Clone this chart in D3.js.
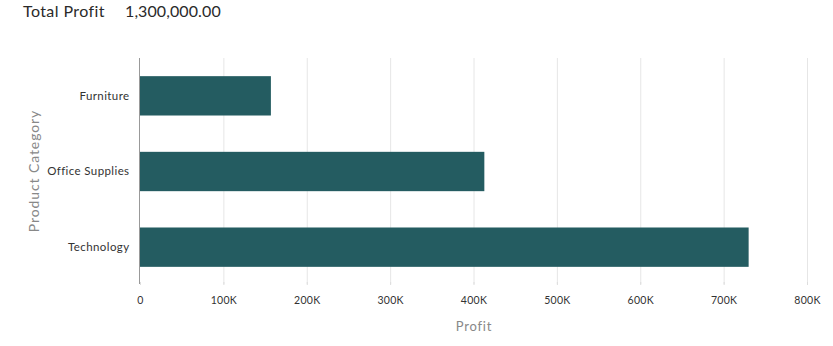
<!DOCTYPE html>
<html>
<head>
<meta charset="utf-8">
<script src="https://cdn.jsdelivr.net/npm/d3@7"></script>
<style>
  html, body { margin: 0; padding: 0; background: #fff; }
  svg { display: block; }
  text { font-family: Lato, "Open Sans", sans-serif; }
</style>
</head>
<body>
<svg id="chart" width="833" height="346"></svg>
<script>
// Profit by product category
const categories = ["Furniture", "Office Supplies", "Technology"];
const profit = [157000, 413000, 730000];
const xTicks = [0, 100000, 200000, 300000, 400000, 500000, 600000, 700000, 800000];
const totalLabel = "Total Profit";
const xTitle = "Profit";
const yTitle = "Product Category";

const svg = d3.select("#chart");
const plotLeft = 140, plotRight = 807, plotTop = 58, plotBottom = 284;

const x = d3.scaleLinear().domain([0, 800000]).range([plotLeft, plotRight]);
const y = d3.scaleBand().domain(categories).range([plotTop, plotBottom + 1])
  .paddingInner(0.48).paddingOuter(0.24);

// header
const total = d3.sum(profit);
const head = svg.append("text").attr("x", 23).attr("y", 17)
  .attr("font-size", 16).attr("fill", "#2a2a2a");
head.append("tspan").attr("letter-spacing", 0.4).text(totalLabel);
head.append("tspan").attr("x", 125).attr("letter-spacing", 0.1).text(d3.format(",.2f")(total));

// vertical gridlines
svg.append("g").selectAll("line").data(xTicks.slice(1)).join("line")
  .attr("x1", d => x(d) + 0.5).attr("x2", d => x(d) + 0.5)
  .attr("y1", plotTop).attr("y2", plotBottom)
  .attr("stroke", "#e6e6e6").attr("stroke-width", 1);

// bars
svg.append("g").selectAll("rect").data(categories).join("rect")
  .attr("x", x(0))
  .attr("y", d => y(d))
  .attr("width", (d, i) => x(profit[i]) - x(0))
  .attr("height", y.bandwidth())
  .attr("fill", "#245c61");

// x axis
const xAxis = d3.axisBottom(x).tickValues(xTicks)
  .tickFormat(d => d === 0 ? "0" : d3.format("~s")(d).replace("k", "K"))
  .tickSize(3).tickPadding(12);
const gx = svg.append("g").attr("transform", `translate(0,${plotBottom - 2})`).call(xAxis);
gx.select(".domain").remove();
gx.selectAll(".tick line").attr("stroke", "#ddd");
gx.selectAll(".tick text").attr("font-size", 10.5).attr("fill", "#333")
  .attr("letter-spacing", 0.3).attr("font-family", "Lato, sans-serif");

// y axis
const yAxis = d3.axisLeft(y).tickSize(0).tickPadding(10);
const gy = svg.append("g").attr("transform", `translate(${plotLeft - 0.5},0)`).call(yAxis);
gy.select(".domain").attr("stroke", "#999").attr("d", `M0,${plotTop}V${plotBottom}`);
gy.selectAll(".tick text").attr("font-size", 11.5).attr("fill", "#333")
  .attr("letter-spacing", 0.4).attr("font-family", "Lato, sans-serif");

// axis titles
svg.append("text").attr("x", 474).attr("y", 331).attr("text-anchor", "middle")
  .attr("font-size", 13).attr("fill", "#888").attr("letter-spacing", 0.8).text(xTitle);
svg.append("text").attr("transform", `translate(39,${(plotTop + plotBottom) / 2}) rotate(-90)`)
  .attr("text-anchor", "middle").attr("font-size", 14).attr("fill", "#888")
  .attr("letter-spacing", 0.9).text(yTitle);
</script>
</body>
</html>
